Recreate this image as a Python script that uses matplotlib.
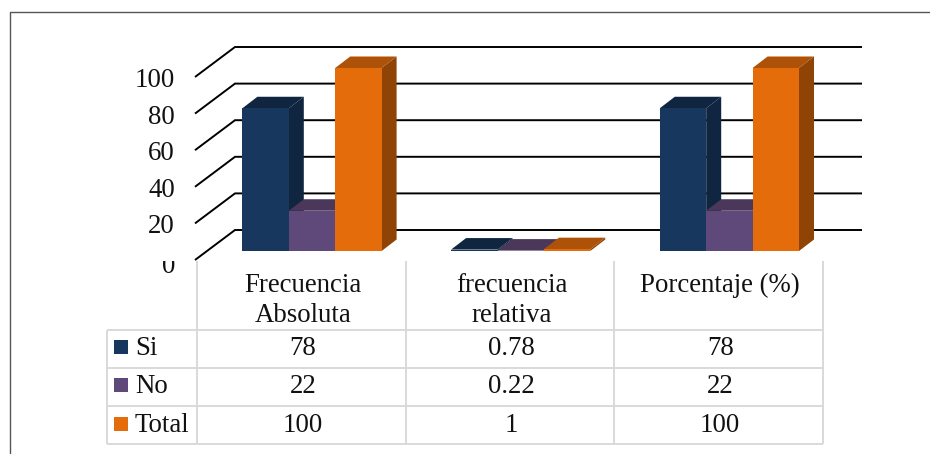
import matplotlib
matplotlib.use("Agg")
import matplotlib.pyplot as plt
from matplotlib.patches import Polygon, Rectangle
from matplotlib.transforms import Bbox

categories = ["Frecuencia\nAbsoluta", "frecuencia\nrelativa", "Porcentaje (%)"]
series_names = ["Si", "No", "Total"]
si_values = [78, 0.78, 78]
no_values = [22, 0.22, 22]
total_values = [100, 1, 100]
y_ticks = [0, 20, 40, 60, 80, 100]

front_colors = ["#17375E", "#5F497A", "#E46C0A"]
top_colors = ["#10253F", "#4A3759", "#AE5208"]
side_colors = ["#10253F", "#3F2F4F", "#8F4304"]

W, H = 930, 454
PX_PER_VALUE = 1.83     # vertical scale
PX_PER_GROUP = 208.7    # distance between category groups
DEPTH_X = 15 / PX_PER_GROUP
DEPTH_Y = 11.5 / PX_PER_VALUE
BAR_W = 46.4 / PX_PER_GROUP
FONT_SIZE = 19.4

plt.rcParams["font.family"] = ["Liberation Serif", "DejaVu Serif"]
fig = plt.figure(figsize=(W / 100, H / 100), dpi=100, facecolor="white")

# page layer in pixel units: frame, table
page = fig.add_axes([0, 0, 1, 1], zorder=0)
page.set_xlim(0, W)
page.set_ylim(H, 0)
page.axis("off")

# chart layer: y is the real value scale, x is the category index
left_px, right_px, base_px, top_px = 195, 862, 251, 68
ax = fig.add_axes([left_px / W, (H - base_px) / H, (right_px - left_px) / W,
                   (base_px - top_px) / H], zorder=1)
ax.patch.set_alpha(0)
ax.set_xlim((left_px - 312) / PX_PER_GROUP, (right_px - 312) / PX_PER_GROUP)
ax.set_ylim(0, 100)
ax.axis("off")

# frame around the figure
page.plot([10, 10, W], [H, 12, 12], color="#555555", lw=1.0)

# gridlines on the back wall, with the diagonal on the side wall
x0, x1 = ax.get_xlim()
wall_x = [x0, x0 + 40 / PX_PER_GROUP, x1]
for v in y_ticks:
    front = v - 9 / PX_PER_VALUE
    back = front + 30 / PX_PER_VALUE
    ax.plot(wall_x, [front, back, back], color="black", lw=1.4, clip_on=False,
            solid_capstyle="butt", solid_joinstyle="miter", zorder=1)

# bars, each with a side and a top face for depth
series_values = [si_values, no_values, total_values]
for s, values in enumerate(series_values):
    for c, v in enumerate(values):
        x = c + (s - 1) * BAR_W
        l, r = x - BAR_W / 2, x + BAR_W / 2
        z = 2 + s
        side = [(r, 0), (r + DEPTH_X, DEPTH_Y), (r + DEPTH_X, v + DEPTH_Y), (r, v)]
        top = [(l, v), (l + DEPTH_X, v + DEPTH_Y), (r + DEPTH_X, v + DEPTH_Y), (r, v)]
        ax.add_patch(Polygon(side, closed=True, fc=side_colors[s], ec="none",
                             clip_on=False, zorder=z))
        ax.add_patch(Polygon(top, closed=True, fc=top_colors[s], ec="none",
                             clip_on=False, zorder=z))
        ax.bar(x, v, width=BAR_W, color=front_colors[s], clip_on=False, zorder=z)

# value labels; the bottom one sits lower and is cut by the top of the table
for v in y_ticks:
    nudge = 3 if v == 0 else 0
    t = page.text(175, base_px + 19 + nudge - v * PX_PER_VALUE, str(v), ha="right",
                  va="baseline", fontsize=FONT_SIZE, color="#111111")
    if v == 0:
        t.set_clip_on(True)
        t.set_clip_box(Bbox.from_extents(0, 0, W, H - 261))

# data table
grid_color = "#D9D9D9"
col_x = [197, 405.7, 614.3, 823]
row_y = [330, 367.5, 405.5, 443.5]
line_kw = dict(color=grid_color, lw=1.4, solid_capstyle="butt")
for x in col_x:
    page.plot([x, x], [261, row_y[-1]], **line_kw)
page.plot([106.7, 106.7], [row_y[0], row_y[-1]], **line_kw)
for y in row_y:
    page.plot([106.7, 823], [y, y], **line_kw)

text_kw = dict(fontsize=FONT_SIZE, color="#111111", va="baseline")
col_mid = [(col_x[i] + col_x[i + 1]) / 2 + 1.5 for i in range(3)]
for mid, label in zip(col_mid, categories):
    for i, line in enumerate(label.split("\n")):
        page.text(mid, 291.5 + i * 31, line, ha="center", **text_kw)

baselines = [355, 393, 431.5]
for r, values in enumerate(series_values):
    base = baselines[r]
    page.add_patch(Rectangle((114, base - 15), 14, 14, fc=front_colors[r], ec="none"))
    page.text(135, base, series_names[r], ha="left", **text_kw)
    for mid, v in zip(col_mid, values):
        page.text(mid, base, str(v), ha="center", **text_kw)

fig.savefig("out.png", dpi=100)
